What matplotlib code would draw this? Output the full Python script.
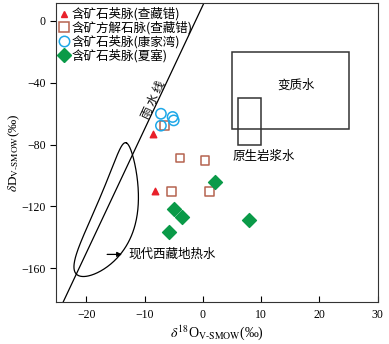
import numpy as np
import matplotlib
matplotlib.use("Agg")
import matplotlib.pyplot as plt
from matplotlib.patches import Rectangle
from matplotlib.lines import Line2D

plt.rcParams['font.family'] = ['Liberation Serif', 'Noto Sans CJK SC', 'DejaVu Sans']
plt.rcParams['mathtext.fontset'] = 'stix'

cjk = ['Noto Sans CJK SC', 'DejaVu Sans']

# data (d18O, dD)
zcc_qz_x = [-8.6, -8.3]
zcc_qz_y = [-73.2, -110.1]
zcc_cal_x = [-6.6, -3.9, 0.4, -5.4, 1.1]
zcc_cal_y = [-67.8, -88.8, -90.4, -110.5, -110.5]
kjw_qz_x = [-7.2, -5.2, -5.0, -7.2]
kjw_qz_y = [-60.1, -62.2, -64.4, -67.8]
xs_qz_x = [2.1, -4.9, -3.5, -5.8, 7.9]
xs_qz_y = [-104.5, -121.6, -127.1, -136.5, -129.0]

labels = ['含矿石英脉(查藏错)', '含矿方解石脉(查藏错)', '含矿石英脉(康家湾)', '含矿石英脉(夏塞)']

# reference fields
meta_box = (5, -70, 20, 50)      # x0, y0, width, height
magma_box = (6, -80, 4, 30)
mwl_slope, mwl_icpt = 8, 10
# outline of the modern Tibetan geothermal water field, in order round the loop
geo_x = [-12.8, -12.0, -11.6, -11.4, -12.5, -15.0, -18.5, -22.0, -22.3, -21.0, -17.1, -14.6]
geo_y = [-73.5, -80.0, -102.6, -120.0, -139.3, -151.6, -166.0, -170.5, -160.6, -143.2, -113.6, -82.0]

fig = plt.figure(figsize=(3.89, 3.44), dpi=100)
ax = fig.add_axes([0.144, 0.121, 0.827, 0.870])
ax.set_xlim(-25.2, 30)
ax.set_ylim(-182, 11.4)

# meteoric water line
xl = np.array([-30, 5])
ax.plot(xl, mwl_slope * xl + mwl_icpt, color='black', lw=0.9)

# smooth closed outline: low-order Fourier fit of the read-off points
gx, gy = np.array(geo_x), np.array(geo_y)
px, py = gx * 5.83, gy * 1.55
seg = np.hypot(np.diff(np.r_[px, px[0]]), np.diff(np.r_[py, py[0]]))
tk = 2 * np.pi * np.r_[0, np.cumsum(seg)[:-1]] / seg.sum()

def basis(t, n=2):
    cols = [np.ones_like(t)]
    for k in range(1, n + 1):
        cols += [np.cos(k * t), np.sin(k * t)]
    return np.column_stack(cols)

cx, *_ = np.linalg.lstsq(basis(tk), gx, rcond=None)
cy, *_ = np.linalg.lstsq(basis(tk), gy, rcond=None)
tt = np.linspace(0, 2 * np.pi, 400)
ax.plot(basis(tt) @ cx, basis(tt) @ cy, color='black', lw=0.9)

ax.add_patch(Rectangle(meta_box[:2], meta_box[2], meta_box[3], fill=False, ec='#333333', lw=1.1))
ax.add_patch(Rectangle(magma_box[:2], magma_box[2], magma_box[3], fill=False, ec='#333333', lw=1.1))

ax.text(16, -41.5, '变质水', family=cjk, fontsize=9, ha='center', va='center')
ax.text(10.5, -87.5, '原生岩浆水', family=cjk, fontsize=9, ha='center', va='center')
ax.text(-8.5, -51, '雨 水 线', family=cjk, fontsize=8.5, ha='center', va='center', rotation=65)
ax.annotate('', xy=(-13.4, -151), xytext=(-16.9, -151),
            arrowprops=dict(arrowstyle='-|>', color='black', lw=0.9, mutation_scale=7))
ax.text(-12.8, -151, '现代西藏地热水', family=cjk, fontsize=9, ha='left', va='center')

ax.scatter(zcc_qz_x, zcc_qz_y, marker='^', s=22, color='#e8202a', zorder=3)
ax.scatter(zcc_cal_x, zcc_cal_y, marker='s', s=38, facecolor='none', edgecolor='#b5634f', lw=1.1, zorder=3)
ax.scatter(kjw_qz_x, kjw_qz_y, marker='o', s=55, facecolor='none', edgecolor='#1ea8e8', lw=1.1, zorder=3)
ax.scatter(xs_qz_x, xs_qz_y, marker='D', s=50, color='#0a9a48', zorder=3)

handles = [
    Line2D([], [], ls='none', marker='^', ms=5, color='#e8202a'),
    Line2D([], [], ls='none', marker='s', ms=6.5, mfc='none', mec='#b5634f', mew=1.1),
    Line2D([], [], ls='none', marker='o', ms=7.5, mfc='none', mec='#1ea8e8', mew=1.1),
    Line2D([], [], ls='none', marker='D', ms=7, color='#0a9a48'),
]
ax.legend(handles, labels, loc='upper left', bbox_to_anchor=(0.0, 1.0), frameon=False,
          prop={'family': cjk, 'size': 9}, handlelength=0.6, handletextpad=0.3,
          labelspacing=0.02, borderpad=0.15, borderaxespad=0.2)

ax.set_xticks([-20, -10, 0, 10, 20, 30])
ax.set_yticks([0, -40, -80, -120, -160])
ax.tick_params(axis='x', direction='in', length=4, labelsize=8.5, pad=5)
ax.tick_params(axis='y', direction='out', length=4, labelsize=8.5)
for s in ax.spines.values():
    s.set_color('#333333')

ax.set_xlabel(r'$\delta^{18}$O$_{\rm V\text{-}SMOW}$(‰)', fontsize=10, labelpad=1)
ax.set_ylabel(r'$\delta$D$_{\rm V\text{-}SMOW}$(‰)', fontsize=9.5, va='center')
ax.yaxis.set_label_coords(-0.13, 0.5)

fig.savefig('out.png', dpi=100)
